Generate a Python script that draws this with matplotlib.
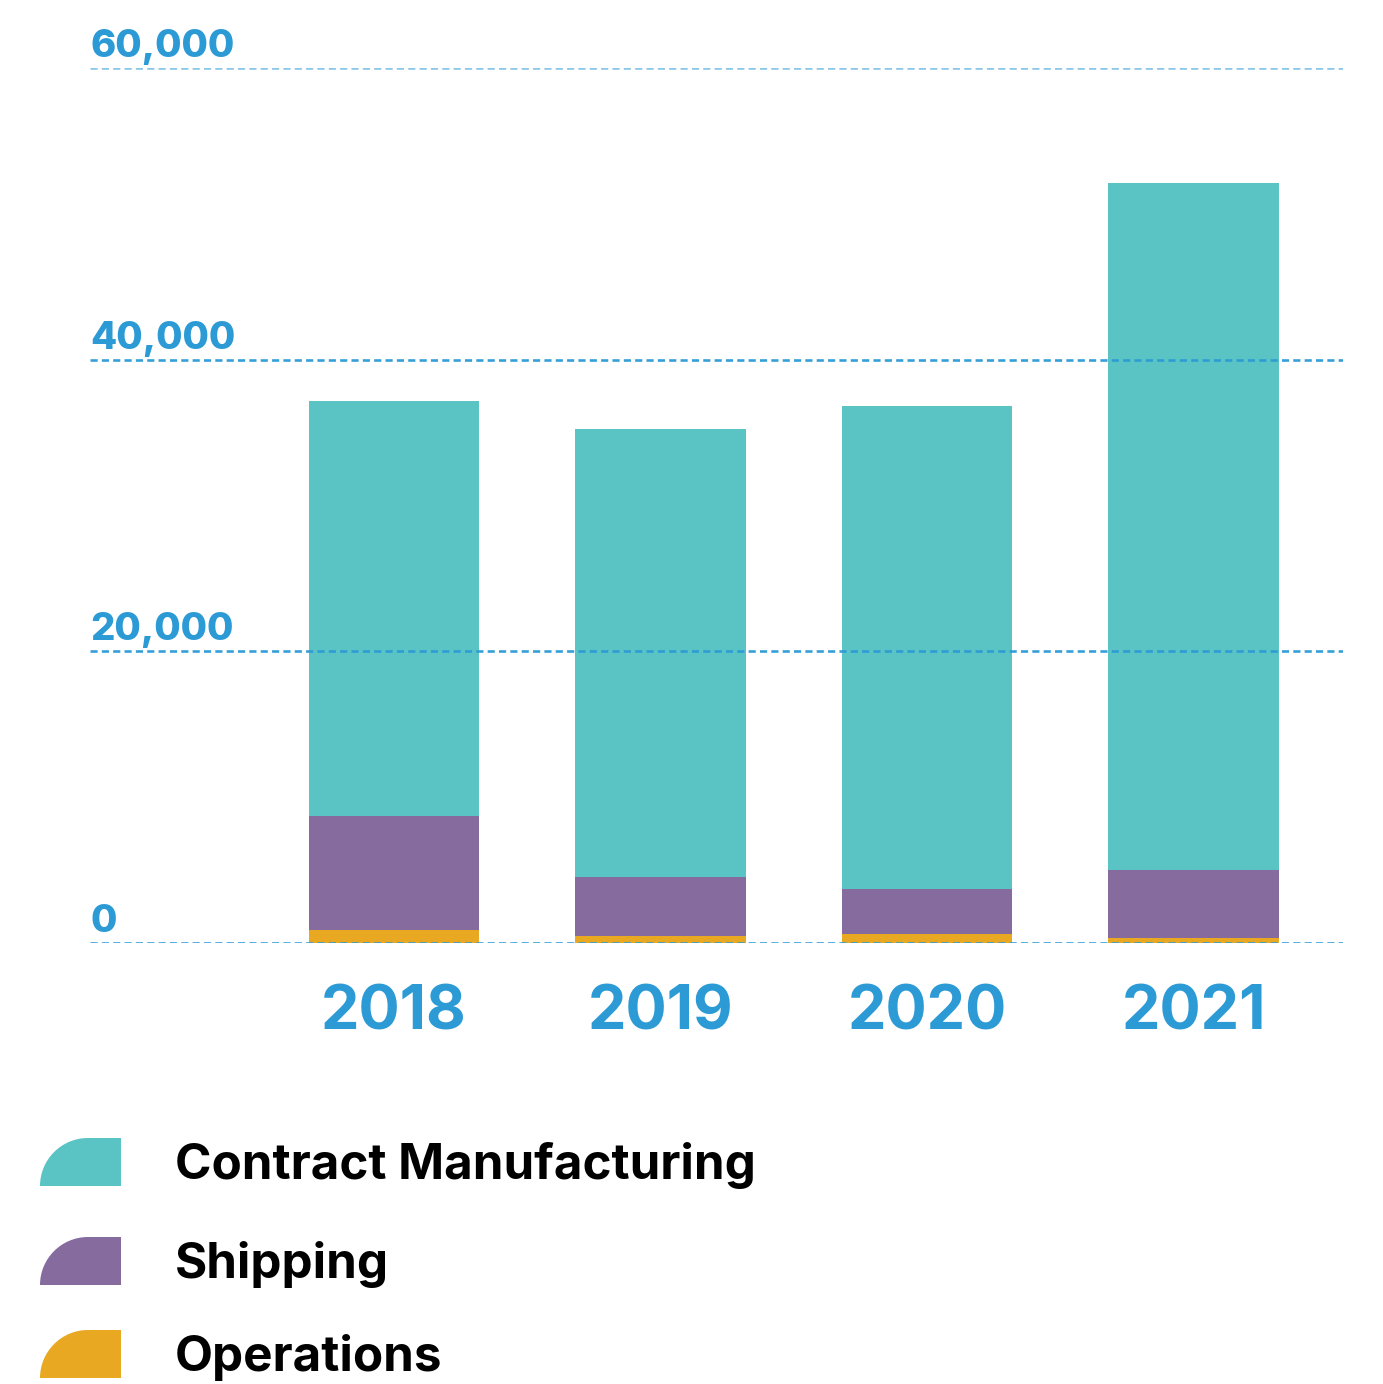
import matplotlib.pyplot as plt
import numpy as np
from matplotlib.path import Path
from matplotlib.patches import PathPatch
from matplotlib.transforms import offset_copy

# Spending by category, per year
years = ["2018", "2019", "2020", "2021"]
operations = [890, 480, 620, 340]
shipping = [7820, 4050, 3090, 4660]
contract_manufacturing = [28460, 30720, 33120, 47110]

series_names = ["Contract Manufacturing", "Shipping", "Operations"]
y_ticks = [0, 20000, 40000, 60000]

TEAL = "#5AC4C5"
PURPLE = "#866B9F"
ORANGE = "#E8A822"
BLUE = "#2C9AD5"

plt.rcParams["font.family"] = ["Inter", "DejaVu Sans"]

W, H = 1383, 1384
fig = plt.figure(figsize=(W / 100, H / 100), dpi=100)

# axes placed so the zero line and 60,000 line sit where wanted
ax = fig.add_axes([90 / W, (H - 943) / H, (1343 - 90) / W, (943 - 68) / H])
ax.set_xlim(-1.14, 3.56)
ax.set_ylim(0, 60000)
ax.axis("off")

x = np.arange(len(years))
bar_w = 0.64
ops = np.array(operations)
ship = np.array(shipping)
cm = np.array(contract_manufacturing)

ax.bar(x, ops, width=bar_w, color=ORANGE, zorder=2)
ax.bar(x, ship, width=bar_w, bottom=ops, color=PURPLE, zorder=2)
ax.bar(x, cm, width=bar_w, bottom=ops + ship, color=TEAL, zorder=2)

# dashed gridlines on top of the bars, with value labels just above
for v in y_ticks:
    alpha = 0.55 if v == max(y_ticks) else 0.95
    ax.axhline(v, color=BLUE, lw=1.9, linestyle=(0, (2.7, 1.6)),
               alpha=alpha, zorder=3)
    trans = offset_copy(ax.transData, fig=fig, x=0, y=11, units="dots")
    ax.text(ax.get_xlim()[0], v, f"{v:,}", transform=trans, ha="left",
            va="baseline", color=BLUE, fontsize=27.5, fontweight="heavy")

# year labels under each bar
for xi, yr in zip(x, years):
    ax.text(xi, 0, yr, transform=offset_copy(ax.transData, fig=fig, x=0, y=-87, units="dots"),
            ha="center", va="baseline", color=BLUE, fontsize=44,
            fontweight="bold")

# legend: swatches with a rounded top-left corner
def swatch(x0, y_top, w, h, color):
    r = h
    k = 0.5523
    left, right = x0, x0 + w
    top, bottom = H - y_top, H - y_top - h
    verts = [
        (left, bottom),
        (left, bottom + k * r), (left + r - k * r, top), (left + r, top),
        (right, top),
        (right, bottom),
        (left, bottom),
    ]
    codes = [Path.MOVETO, Path.CURVE4, Path.CURVE4, Path.CURVE4,
             Path.LINETO, Path.LINETO, Path.CLOSEPOLY]
    verts = [(vx / W, vy / H) for vx, vy in verts]
    fig.patches.append(PathPatch(Path(verts, codes), facecolor=color,
                                 edgecolor="none", transform=fig.transFigure))

legend_colors = [TEAL, PURPLE, ORANGE]
legend_tops = [1138, 1237, 1330]
for name, col, top in zip(series_names, legend_colors, legend_tops):
    swatch(40, top, 81, 48, col)
    fig.text(175 / W, (H - (top + 41)) / H, name, ha="left", va="baseline",
             fontsize=35.5, fontweight="bold", color="black")

fig.savefig("out.png", dpi=100)
